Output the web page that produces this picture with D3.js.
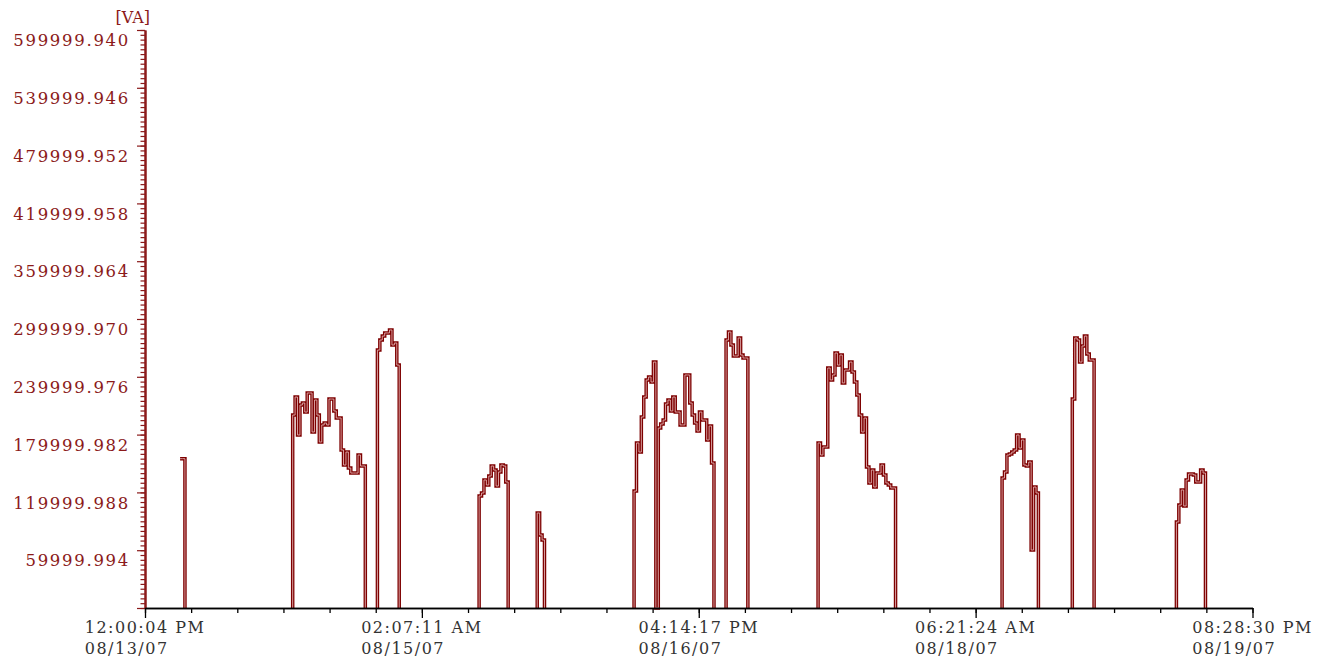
<!DOCTYPE html>
<html><head><meta charset="utf-8">
<script src="https://cdn.jsdelivr.net/npm/d3@7"></script>
<style>html,body{margin:0;padding:0;background:#fff;} svg{display:block}</style>
</head><body>
<svg id="chart" width="1337" height="661"></svg>
<script>
// ---------- data ----------
const unitLabel = "[VA]";
const xStart = "2007-08-13 12:00:04";
const xEnd = "2007-08-19 20:28:30";
const xTickLabels = [
  ["12:00:04 PM", "08/13/07"],
  ["02:07:11 AM", "08/15/07"],
  ["04:14:17 PM", "08/16/07"],
  ["06:21:24 AM", "08/18/07"],
  ["08:28:30 PM", "08/19/07"]
];
const yMax = 599999.94;
const yTickValues = [0, 59999.994, 119999.988, 179999.982, 239999.976, 299999.970,
  359999.964, 419999.958, 479999.952, 539999.946, 599999.940];
const yTickLabels = ["", "59999.994", "119999.988", "179999.982", "239999.976", "299999.970",
  "359999.964", "419999.958", "479999.952", "539999.946", "599999.940"];

const stepMinutes = 20; // sampling interval of the VA readings
const burstStarts = ["2007-08-13 16:50", "2007-08-14 08:20", "2007-08-14 20:00", "2007-08-15 10:00",
  "2007-08-15 18:00", "2007-08-16 07:20", "2007-08-16 20:00", "2007-08-17 08:40",
  "2007-08-18 10:00", "2007-08-18 19:40", "2007-08-19 10:00"];
const spikeValues = [155000, 155000];
const burst1Values = [200300, 219000, 179600, 210700, 212800, 203400, 223200, 223200, 182700, 215900,
  200300, 172300, 190000, 192000, 190000, 216900, 216900, 204500, 197200, 197200,
  164000, 148400, 161900, 145300, 140100, 140100, 140100, 158800, 147400, 147400];
const burst2Values = [267800, 278200, 282300, 285500, 285500, 288600, 273000, 275100, 252200];
const burst3Values = [116300, 119400, 132900, 127700, 137000, 147400, 143200, 126600, 141200, 148400, 147400, 130800];
const burst4Values = [98600, 75800, 70600];
const burst5Values = [121400, 171300, 161900, 198300, 219000, 236700, 239800, 234600, 255300, 0,
  186800, 191000, 195100, 211800, 215900, 204500, 219000, 203400, 203400, 190000,
  190000, 241900, 241900, 212800, 200300, 192000, 183700, 203400, 195100, 195100,
  174400, 188900, 150500];
const burst6Values = [278200, 286500, 273000, 261600, 261600, 280300, 262600, 259500, 259500];
const burst7Values = [171300, 158800, 167100, 167100, 249100, 236700, 241900, 264700, 252200, 262600,
  233600, 247000, 247000, 255300, 245000, 234600, 221100, 200300, 182700, 197200,
  146400, 129800, 143200, 125600, 140100, 140100, 148400, 138100, 129800, 127700,
  124600, 124600];
const burst8Values = [134900, 141200, 158800, 159900, 161900, 164000, 179600, 166100, 174400, 148400,
  147400, 151500, 60200, 125600, 119400];
const burst9Values = [216900, 280300, 278200, 255300, 272000, 282300, 263700, 257400, 257400];
const burst10Values = [89300, 106900, 122500, 105900, 132900, 139100, 139100, 138100, 130800, 130800, 143200, 140100];

const burstValues = [spikeValues, burst1Values, burst2Values, burst3Values, burst4Values, burst5Values,
  burst6Values, burst7Values, burst8Values, burst9Values, burst10Values];

// ---------- drawing ----------
const LINE = "#7d0000";
const AXISRED = "#8b1a1a";
const FONT = "'DejaVu Serif', serif";

const svg = d3.select("#chart");
svg.append("rect").attr("width", 1337).attr("height", 661).attr("fill", "#fff");

const parseFull = d3.timeParse("%Y-%m-%d %H:%M:%S");
const parseMin = d3.timeParse("%Y-%m-%d %H:%M");
const tA = parseFull(xStart), tB = parseFull(xEnd);

const x = d3.scaleTime().domain([tA, tB]).range([145, 1252.5]);
const y = d3.scaleLinear().domain([0, yMax]).range([608, 30]);

const line = d3.line().x(d => x(d.t)).y(d => y(d.v)).curve(d3.curveStepAfter);

const bursts = burstStarts.map((s, bi) => {
  const t0 = parseMin(s);
  const vals = burstValues[bi];
  const pts = [];
  if (bi > 0) pts.push({t: t0, v: 0});
  vals.forEach((v, i) => pts.push({t: d3.timeMinute.offset(t0, i * stepMinutes), v}));
  pts.push({t: d3.timeMinute.offset(t0, vals.length * stepMinutes), v: 0});
  return pts;
});

const gLines = svg.append("g");
gLines.selectAll("path.outer").data(bursts).join("path")
  .attr("class", "outer")
  .attr("d", line)
  .attr("fill", "none")
  .attr("stroke", LINE)
  .attr("stroke-width", 3.5)
  .attr("stroke-linejoin", "miter");
gLines.selectAll("path.inner").data(bursts).join("path")
  .attr("class", "inner")
  .attr("d", line)
  .attr("fill", "none")
  .attr("stroke", "#e2b0b0")
  .attr("stroke-width", 0.9);

// Y axis (minor + major)
const yMinorTicks = d3.range(121).map(i => yMax * i / 120);
const gyMinor = svg.append("g").attr("transform", "translate(145,0)")
  .call(d3.axisLeft(y).tickValues(yMinorTicks).tickSize(4.5).tickSizeOuter(0).tickFormat(""));
const gyMajor = svg.append("g").attr("transform", "translate(145,0)")
  .call(d3.axisLeft(y).tickValues(yTickValues).tickSize(8).tickSizeOuter(0).tickPadding(7)
    .tickFormat((d, i) => yTickLabels[i]));
[gyMinor, gyMajor].forEach(g => {
  g.select(".domain").attr("stroke", AXISRED).attr("stroke-width", 2);
  g.selectAll(".tick line").attr("stroke", AXISRED).attr("stroke-width", 1.2);
});
gyMajor.selectAll(".tick text")
  .attr("fill", AXISRED)
  .attr("font-family", FONT)
  .attr("font-size", 16.5)
  .attr("letter-spacing", 1.7)
  .attr("dy", "0.95em");

svg.append("text")
  .attr("x", 150).attr("y", 23)
  .attr("text-anchor", "end")
  .attr("fill", AXISRED)
  .attr("font-family", FONT)
  .attr("font-size", 16)
  .text(unitLabel);

// X axis (minor + major)
const xAllTicks = d3.range(25).map(i => new Date(+tA + (tB - tA) * i / 24));
const xMajorTicks = d3.range(5).map(i => new Date(+tA + (tB - tA) * i / 4));
const gxMinor = svg.append("g").attr("transform", "translate(0,608)")
  .call(d3.axisBottom(x).tickValues(xAllTicks).tickSize(5).tickSizeOuter(0).tickFormat(""));
const gxMajor = svg.append("g").attr("transform", "translate(0,608)")
  .call(d3.axisBottom(x).tickValues(xMajorTicks).tickSize(10).tickSizeOuter(0).tickFormat(""));
[gxMinor, gxMajor].forEach(g => {
  g.select(".domain").attr("stroke", "#000").attr("stroke-width", 1.6);
  g.selectAll(".tick line").attr("stroke", "#000").attr("stroke-width", 1.3);
});

xMajorTicks.forEach((d, i) => {
  const t1 = svg.append("text")
    .attr("y", 633)
    .attr("fill", "#333")
    .attr("font-family", FONT)
    .attr("font-size", 16)
    .attr("letter-spacing", 1.5)
    .text(xTickLabels[i][0]);
  const w = t1.node().getComputedTextLength();
  const left = x(d) - w / 2;
  t1.attr("x", left);
  svg.append("text")
    .attr("x", left).attr("y", 654)
    .attr("fill", "#333")
    .attr("font-family", FONT)
    .attr("font-size", 16)
    .attr("letter-spacing", 1.5)
    .text(xTickLabels[i][1]);
});
</script>
</body></html>
